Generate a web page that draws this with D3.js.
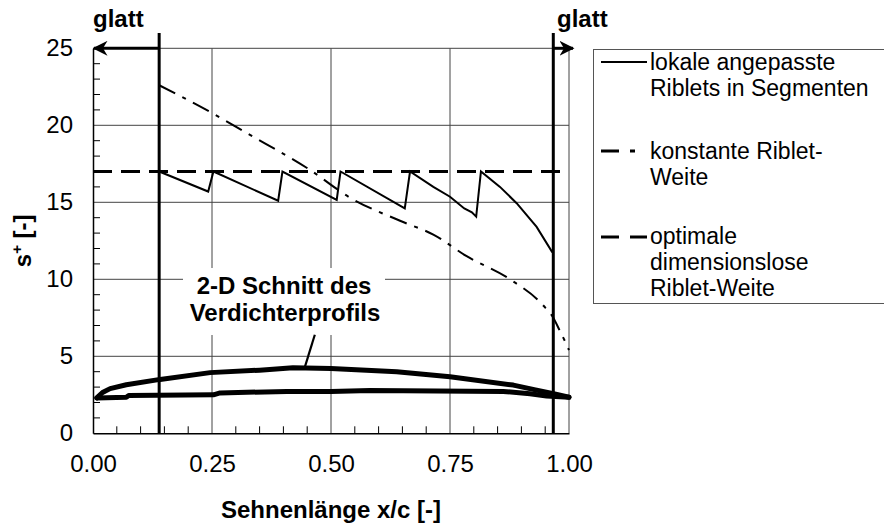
<!DOCTYPE html>
<html>
<head>
<meta charset="utf-8">
<script src="https://cdn.jsdelivr.net/npm/d3@7"></script>
<style>
  html, body { margin: 0; padding: 0; background: #fff; }
  svg { display: block; font-family: "Liberation Sans", Arial, sans-serif; }
</style>
</head>
<body>
<svg id="chart" width="884" height="526"></svg>
<script>
// Tick values
const xTicks = [0, 0.25, 0.5, 0.75, 1.0];
const yTicks = [0, 5, 10, 15, 20, 25];

// Boundaries of the smooth zones
const smoothEdges = [0.139, 0.967];

// Locally adapted riblets in segments (sawtooth)
const segX = [0.139, 0.242, 0.253, 0.389, 0.398, 0.512, 0.520, 0.655, 0.666, 0.715, 0.75, 0.78, 0.796, 0.805, 0.815, 0.855, 0.89, 0.932, 0.964, 0.967];
const segS = [17, 15.7, 17, 15.1, 17, 15.15, 17, 14.6, 17, 16.0, 15.36, 14.6, 14.35, 14.07, 17, 16.0, 14.94, 13.4, 11.8, 11.7];

// Constant riblet spacing
const constX = [0, 1];
const constS = [17, 17];

// Optimal dimensionless riblet spacing
const optX = [0.139, 0.25, 0.323, 0.456, 0.54, 0.645, 0.715, 0.785, 0.876, 0.946, 0.967, 0.98, 0.995, 1.0];
const optS = [22.6, 20.8, 19.5, 17.1, 15.3, 13.8, 12.9, 11.5, 10.0, 8.3, 7.5, 6.7, 5.75, 5.4];

// 2-D section of the compressor blade (upper / lower surface)
const upperX = [0.008, 0.02, 0.036, 0.07, 0.141, 0.246, 0.35, 0.42, 0.5, 0.638, 0.75, 0.883, 0.932, 0.97, 1.0];
const upperS = [2.3, 2.65, 2.9, 3.15, 3.5, 3.94, 4.1, 4.25, 4.2, 4.0, 3.67, 3.13, 2.8, 2.55, 2.34];
const lowerX = [0.008, 0.07, 0.075, 0.253, 0.267, 0.407, 0.5, 0.582, 0.862, 0.918, 0.953, 1.0];
const lowerS = [2.3, 2.34, 2.45, 2.5, 2.62, 2.72, 2.72, 2.78, 2.72, 2.57, 2.42, 2.34];

// Leader line from the profile annotation
const leaderX = [0.466, 0.445];
const leaderS = [6.4, 4.3];

const legendLabels = [
  ["lokale angepasste", "Riblets in Segmenten"],
  ["konstante Riblet-", "Weite"],
  ["optimale", "dimensionslose", "Riblet-Weite"]
];

const svg = d3.select("#chart");
const FS = 24;
const LFS = 23;
const FONT = "'Liberation Sans', Arial, sans-serif";

const x = d3.scaleLinear().domain([0, 1]).range([93, 569]);
const y = d3.scaleLinear().domain([0, 25]).range([433.3, 48.3]);

const zip = (xs, ys) => xs.map((v, i) => [v, ys[i]]);
const line = d3.line().x(d => x(d[0])).y(d => y(d[1]));

// Grid lines
const grid = svg.append("g").attr("stroke", "#444").attr("stroke-width", 1);
grid.selectAll(".gx").data(xTicks.slice(1)).join("line")
  .attr("x1", d => x(d)).attr("x2", d => x(d))
  .attr("y1", y(0)).attr("y2", y(25));
grid.selectAll(".gy").data(yTicks.slice(1)).join("line")
  .attr("x1", x(0)).attr("x2", x(1))
  .attr("y1", d => y(d)).attr("y2", d => y(d));

// Label background hiding the grid behind the annotation
svg.append("rect")
  .attr("x", 183).attr("y", 268).attr("width", 202).attr("height", 67)
  .attr("fill", "#fff");

// Axes
const xAxis = d3.axisBottom(x).tickValues(xTicks).tickFormat(d3.format(".2f")).tickSize(0).tickPadding(22);
const gx = svg.append("g").attr("transform", `translate(0,${y(0)})`).call(xAxis);
gx.select(".domain").attr("stroke", "#000").attr("stroke-width", 1.5);
gx.selectAll("text").attr("font-size", FS).attr("font-family", FONT).attr("fill", "#000");

const yAxis = d3.axisLeft(y).tickValues(yTicks).tickSize(0).tickPadding(20);
const gy = svg.append("g").attr("transform", `translate(${x(0)},0)`).call(yAxis);
gy.select(".domain").attr("stroke", "#000").attr("stroke-width", 1.5);
gy.selectAll("text").attr("font-size", FS).attr("font-family", FONT).attr("fill", "#000");

// Minor ticks pointing into the plot
const minorX = d3.range(1, 20).map(i => i * 0.05).filter(v => Math.abs(v * 4 - Math.round(v * 4)) > 1e-6);
svg.append("g").selectAll("line").data(minorX).join("line")
  .attr("x1", d => x(d)).attr("x2", d => x(d))
  .attr("y1", y(0)).attr("y2", y(0) - 7)
  .attr("stroke", "#000").attr("stroke-width", 1);
const minorY = d3.range(1, 25).filter(v => v % 5 !== 0);
svg.append("g").selectAll("line").data(minorY).join("line")
  .attr("x1", x(0)).attr("x2", x(0) + 7)
  .attr("y1", d => y(d)).attr("y2", d => y(d))
  .attr("stroke", "#000").attr("stroke-width", 1);

// Optimal dimensionless riblet spacing (dash-dot)
svg.append("path")
  .datum(zip(optX, optS))
  .attr("d", line.curve(d3.curveMonotoneX))
  .attr("fill", "none").attr("stroke", "#000").attr("stroke-width", 2)
  .attr("stroke-dasharray", "18,8,4,8");
line.curve(d3.curveLinear);

// Constant riblet spacing (dashed)
svg.append("path")
  .datum(zip(constX, constS))
  .attr("d", line)
  .attr("fill", "none").attr("stroke", "#000").attr("stroke-width", 3.2)
  .attr("stroke-dasharray", "19,9");

// Segment-wise adapted riblets
svg.append("path")
  .datum(zip(segX, segS))
  .attr("d", line)
  .attr("fill", "none").attr("stroke", "#000").attr("stroke-width", 2)
  .attr("stroke-linejoin", "miter");

// Blade profile
[zip(upperX, upperS), zip(lowerX, lowerS)].forEach(pts => {
  svg.append("path").datum(pts)
    .attr("d", line)
    .attr("fill", "none").attr("stroke", "#000").attr("stroke-width", 5)
    .attr("stroke-linejoin", "round").attr("stroke-linecap", "round");
});
svg.append("path").datum(zip(leaderX, leaderS))
  .attr("d", line)
  .attr("fill", "none").attr("stroke", "#000").attr("stroke-width", 2.2);

// Smooth-zone boundaries with arrows
svg.append("defs").append("marker")
  .attr("id", "arr").attr("viewBox", "0 0 10 10").attr("refX", 9).attr("refY", 5)
  .attr("markerWidth", 5).attr("markerHeight", 5).attr("markerUnits", "strokeWidth")
  .attr("orient", "auto")
  .append("path").attr("d", "M0,0 L10,5 L0,10 L3,5 Z").attr("fill", "#000");

svg.append("g").selectAll("line").data(smoothEdges).join("line")
  .attr("x1", d => x(d)).attr("x2", d => x(d))
  .attr("y1", 33).attr("y2", y(0))
  .attr("stroke", "#000").attr("stroke-width", 3);

svg.append("line")
  .attr("x1", x(smoothEdges[0])).attr("x2", x(0) + 1)
  .attr("y1", y(25)).attr("y2", y(25))
  .attr("stroke", "#000").attr("stroke-width", 3).attr("marker-end", "url(#arr)");
svg.append("line")
  .attr("x1", x(smoothEdges[1])).attr("x2", x(1) + 4)
  .attr("y1", y(25)).attr("y2", y(25))
  .attr("stroke", "#000").attr("stroke-width", 3).attr("marker-end", "url(#arr)");

svg.append("text").attr("x", 93).attr("y", 27).attr("font-family", FONT)
  .attr("font-size", FS).attr("font-weight", "bold").text("glatt");
svg.append("text").attr("x", 557).attr("y", 27).attr("font-family", FONT)
  .attr("font-size", FS).attr("font-weight", "bold").text("glatt");

// Profile annotation
const ann = svg.append("text").attr("font-size", FS).attr("font-weight", "bold")
  .attr("font-family", FONT).attr("text-anchor", "middle");
ann.append("tspan").attr("x", 284).attr("y", 294).text("2-D Schnitt des");
ann.append("tspan").attr("x", 285).attr("y", 321).text("Verdichterprofils");

// Axis titles
svg.append("text").attr("x", x(0.5)).attr("y", 518).attr("font-family", FONT)
  .attr("text-anchor", "middle").attr("font-size", FS).attr("font-weight", "bold")
  .text("Sehnenlänge x/c [-]");
const yt = svg.append("text")
  .attr("transform", `translate(31,${(y(0) + y(25)) / 2}) rotate(-90)`)
  .attr("font-family", FONT)
  .attr("text-anchor", "middle").attr("font-size", FS).attr("font-weight", "bold");
yt.append("tspan").text("s");
yt.append("tspan").attr("font-size", 15).attr("dy", -9).text("+");
yt.append("tspan").attr("dy", 9).text(" [-]");

// Legend
const lg = svg.append("g");
lg.append("rect").attr("x", 593.5).attr("y", 49.5).attr("width", 300).attr("height", 254)
  .attr("fill", "#fff").attr("stroke", "#555").attr("stroke-width", 1);
const sampleY = [62, 151, 237];
const sampleDash = [null, "18,11,5,40", "18,11,17,40"];
const textY = [[70, 96], [159, 185], [244, 270, 296]];
legendLabels.forEach((lines, i) => {
  const l = lg.append("line")
    .attr("x1", 601).attr("x2", 647)
    .attr("y1", sampleY[i]).attr("y2", sampleY[i])
    .attr("stroke", "#000").attr("stroke-width", i === 0 ? 2 : 3);
  if (sampleDash[i]) l.attr("stroke-dasharray", sampleDash[i]);
  const t = lg.append("text").attr("font-size", LFS).attr("font-family", FONT);
  lines.forEach((s, j) => t.append("tspan").attr("x", 650).attr("y", textY[i][j]).text(s));
});
</script>
</body>
</html>
